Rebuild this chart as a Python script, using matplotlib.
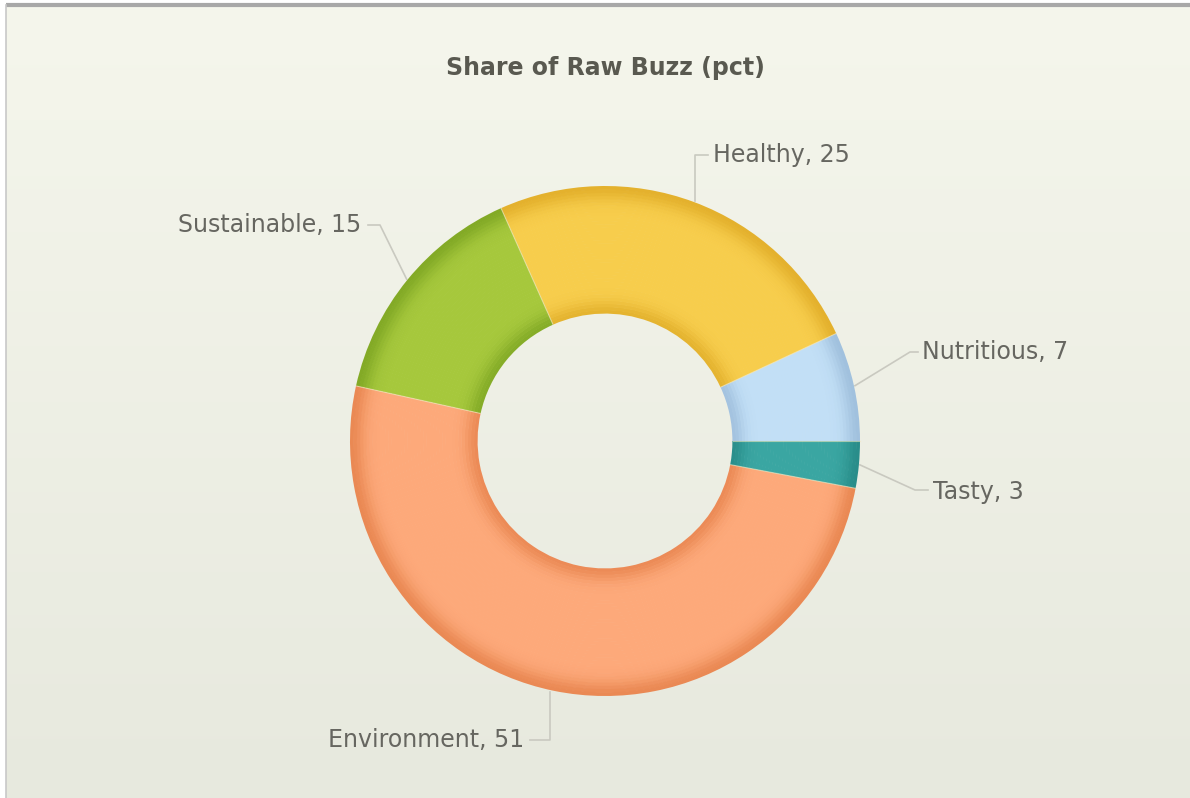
import numpy as np
import matplotlib
matplotlib.use("Agg")
import matplotlib.pyplot as plt
from matplotlib.colors import to_rgb

# ---- data ----
categories = ["Nutritious", "Healthy", "Sustainable", "Environment", "Tasty"]
values = [7, 25, 15, 51, 3]
colors = ["#c2dff6", "#f7cd4c", "#a6c83c", "#fda97a", "#3aa6a2"]
edge_colors = ["#8fb0d0", "#d9a21c", "#6f9a1a", "#e0773e", "#1f7f7c"]
title = "Share of Raw Buzz (pct)"

W, H = 1190, 798
fig = plt.figure(figsize=(W / 100, H / 100), dpi=100)
fig.patch.set_facecolor("white")
ax = fig.add_axes([0, 0, 1, 1])
ax.set_xlim(0, W)
ax.set_ylim(0, H)
ax.axis("off")

def py(y):
    return H - y

# background gradient
grad = np.linspace(0, 1, 256)[:, None]
top = np.array(to_rgb("#f5f6ec"))
bot = np.array(to_rgb("#e7e9de"))
img = top[None, None, :] * (1 - grad[:, :, None]) + bot[None, None, :] * grad[:, :, None]
ax.imshow(img, extent=[6, W, 0, py(6)], aspect="auto", zorder=0)
ax.plot([6, W], [py(5), py(5)], color="#a8a8a8", lw=3, zorder=1, solid_capstyle="butt")
ax.plot([6, 6], [py(5), 0], color="#c8c8c8", lw=1.2, zorder=1)

# donut geometry (pixels)
cx, cy = 605, py(441)
R_out, R_in = 255, 128

# radial shading: rings
n = 40
edges = np.linspace(R_in, R_out, n + 1)
for k in range(n):
    r_o = edges[k + 1]
    t = (k + 0.5) / n  # 0 inner -> 1 outer
    d = 0.6 * np.exp(-((t) / 0.10) ** 2) + 0.65 * np.exp(-((1 - t) / 0.11) ** 2)
    d = min(d, 1.0)
    cols = []
    for c, e in zip(colors, edge_colors):
        c1 = np.array(to_rgb(c))
        c2 = np.array(to_rgb(e))
        cols.append(tuple(c1 * (1 - d) + c2 * d))
    wedges, _ = ax.pie(values, colors=cols, startangle=0, counterclock=True,
                       radius=r_o, center=(cx, cy), frame=True,
                       wedgeprops=dict(width=edges[k + 1] - edges[k] + 0.6,
                                       linewidth=0))
    for w in wedges:
        w.set_zorder(2)

# separators
for w in wedges:
    th = np.deg2rad(w.theta1)
    ax.plot([cx + R_in * np.cos(th), cx + R_out * np.cos(th)],
            [cy + R_in * np.sin(th), cy + R_out * np.sin(th)],
            color="#f3e8c0", lw=0.8, alpha=0.6, zorder=3)

ax.set_xlim(0, W)
ax.set_ylim(0, H)
ax.set_aspect("auto")
ax.axis("off")

# labels with leader lines (layout: elbow and label positions in px)
layout = {
    "Healthy": dict(path=[(695, 155), (708, 155)], text=(713, 155), ha="left"),
    "Sustainable": dict(path=[(380, 225), (368, 225)], text=(361, 225), ha="right"),
    "Nutritious": dict(path=[(910, 352), (918, 352)], text=(922, 352), ha="left"),
    "Tasty": dict(path=[(915, 490), (928, 490)], text=(933, 492), ha="left"),
    "Environment": dict(path=[(550, 740), (530, 740)], text=(524, 740), ha="right"),
}
for w, cat, v in zip(wedges, categories, values):
    mid = np.deg2rad((w.theta1 + w.theta2) / 2)
    ax0 = cx + (R_out + 1) * np.cos(mid)
    ay0 = cy + (R_out + 1) * np.sin(mid)
    L = layout[cat]
    xs = [ax0] + [p[0] for p in L["path"]]
    ys = [ay0] + [py(p[1]) for p in L["path"]]
    if cat in ("Environment", "Healthy"):
        xs[0] = L["path"][0][0]
    ax.plot(xs, ys, color="#c9c9c0", lw=1.2, zorder=1.5)
    ax.text(L["text"][0], py(L["text"][1]), f"{cat}, {v}", ha=L["ha"], va="center",
            fontsize=17, color="#666660", family="DejaVu Sans", zorder=4)

ax.text(W / 2 + 10, py(68), title, ha="center", va="center", fontsize=17,
        fontweight="bold", color="#595950", family="DejaVu Sans", zorder=4)

fig.savefig("out.png", dpi=100, facecolor=fig.get_facecolor())
